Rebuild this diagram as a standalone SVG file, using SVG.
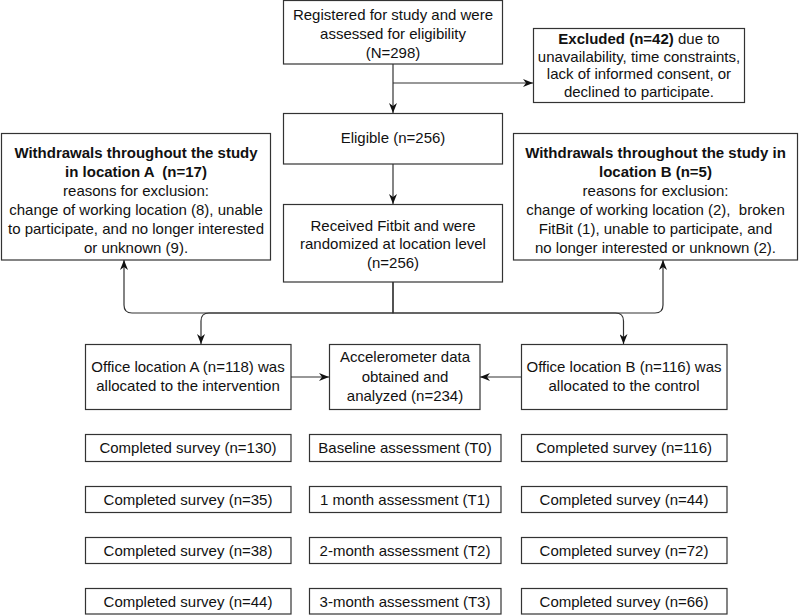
<svg xmlns="http://www.w3.org/2000/svg" width="800" height="615" viewBox="0 0 800 615">
<style>
.box{fill:#fff;stroke:#333;stroke-width:1.2}
text{font-family:"Liberation Sans",Arial,sans-serif;font-size:15px;fill:#111;text-anchor:middle;white-space:pre}
.b{font-weight:bold}
.edge{fill:none;stroke:#333;stroke-width:1.2}
</style>
<defs>
<marker id="arr" viewBox="0 0 10 8" refX="10" refY="4" markerWidth="10" markerHeight="8" orient="auto" markerUnits="userSpaceOnUse">
<path d="M0,0 L10,4 L0,8 L3,4 z" fill="#111"/>
</marker>
</defs>
<rect width="800" height="615" fill="#fff"/>
<g id="connectors">
<path class="edge" d="M393,64 V113" marker-end="url(#arr)"/>
<path class="edge" d="M393,83 H533" marker-end="url(#arr)"/>
<path class="edge" d="M393,164 V204" marker-end="url(#arr)"/>
<path class="edge" d="M393,282 V313 H132 Q124,313 124,305 V260" marker-end="url(#arr)"/>
<path class="edge" d="M393,282 V313 H655 Q663,313 663,305 V260" marker-end="url(#arr)"/>
<path class="edge" d="M393,313 H209 Q201,313 201,321 V344" marker-end="url(#arr)"/>
<path class="edge" d="M393,313 H615.5 Q623.5,313 623.5,321 V344" marker-end="url(#arr)"/>
<path class="edge" d="M291,377 H329" marker-end="url(#arr)"/>
<path class="edge" d="M521,377 H480" marker-end="url(#arr)"/>
</g>
<g id="registered">
<rect class="box" x="283.5" y="0.5" width="219" height="63.5"/>
<text x="393" y="20">Registered for study and were</text>
<text x="393" y="39">assessed for eligibility</text>
<text x="393" y="58">(N=298)</text>
</g>
<g id="excluded">
<rect class="box" x="533.5" y="28.5" width="211" height="74"/>
<text x="639" y="44"><tspan class="b">Excluded (n=42)</tspan> due to</text>
<text x="639" y="61.5">unavailability, time constraints,</text>
<text x="639" y="79">lack of informed consent, or</text>
<text x="639" y="96.5">declined to participate.</text>
</g>
<g id="eligible">
<rect class="box" x="283.5" y="113.5" width="219" height="50.5"/>
<text x="393" y="143">Eligible (n=256)</text>
</g>
<g id="randomized">
<rect class="box" x="283.5" y="204.5" width="219" height="77.5"/>
<text x="393" y="230.5">Received Fitbit and were</text>
<text x="393" y="249">randomized at location level</text>
<text x="393" y="267.5">(n=256)</text>
</g>
<g id="withdrawA">
<rect class="box" x="1.5" y="133.5" width="269" height="126.5"/>
<text class="b" x="136" y="158">Withdrawals throughout the study</text>
<text class="b" x="136" y="177">in location A  (n=17)</text>
<text x="136" y="196">reasons for exclusion:</text>
<text x="136" y="215">change of working location (8), unable</text>
<text x="136" y="234">to participate, and no longer interested</text>
<text x="136" y="253">or unknown (9).</text>
</g>
<g id="withdrawB">
<rect class="box" x="513.5" y="133.5" width="284" height="126.5"/>
<text class="b" x="655.5" y="158">Withdrawals throughout the study in</text>
<text class="b" x="655.5" y="177">location B (n=5)</text>
<text x="655.5" y="196">reasons for exclusion:</text>
<text x="655.5" y="215">change of working location (2),  broken</text>
<text x="655.5" y="234">FitBit (1), unable to participate, and</text>
<text x="655.5" y="253">no longer interested or unknown (2).</text>
</g>
<g id="officeA">
<rect class="box" x="85.5" y="344.5" width="205.5" height="65"/>
<text x="188" y="372">Office location A (n=118) was</text>
<text x="188" y="391">allocated to the intervention</text>
</g>
<g id="accel">
<rect class="box" x="329.5" y="344.5" width="150.5" height="65"/>
<text x="405" y="362">Accelerometer data</text>
<text x="405" y="382">obtained and</text>
<text x="405" y="401">analyzed (n=234)</text>
</g>
<g id="officeB">
<rect class="box" x="521.5" y="344.5" width="205.5" height="65"/>
<text x="624" y="372">Office location B (n=116) was</text>
<text x="624" y="391">allocated to the control</text>
</g>
<g id="surveyA0"><rect class="box" x="85.5" y="434.5" width="205.5" height="27"/><text x="188" y="453">Completed survey (n=130)</text></g>
<g id="t0"><rect class="box" x="309.5" y="434.5" width="191.5" height="27"/><text x="405" y="453">Baseline assessment (T0)</text></g>
<g id="surveyB0"><rect class="box" x="521.5" y="434.5" width="205.5" height="27"/><text x="624" y="453">Completed survey (n=116)</text></g>
<g id="surveyA1"><rect class="box" x="85.5" y="486.5" width="205.5" height="26"/><text x="188" y="504.5">Completed survey (n=35)</text></g>
<g id="t1"><rect class="box" x="309.5" y="486.5" width="191.5" height="26"/><text x="405" y="504.5">1 month assessment (T1)</text></g>
<g id="surveyB1"><rect class="box" x="521.5" y="486.5" width="205.5" height="26"/><text x="624" y="504.5">Completed survey (n=44)</text></g>
<g id="surveyA2"><rect class="box" x="85.5" y="537.5" width="205.5" height="26"/><text x="188" y="555.5">Completed survey (n=38)</text></g>
<g id="t2"><rect class="box" x="309.5" y="537.5" width="191.5" height="26"/><text x="405" y="555.5">2-month assessment (T2)</text></g>
<g id="surveyB2"><rect class="box" x="521.5" y="537.5" width="205.5" height="26"/><text x="624" y="555.5">Completed survey (n=72)</text></g>
<g id="surveyA3"><rect class="box" x="85.5" y="588.5" width="205.5" height="25.5"/><text x="188" y="606.5">Completed survey (n=44)</text></g>
<g id="t3"><rect class="box" x="309.5" y="588.5" width="191.5" height="25.5"/><text x="405" y="606.5">3-month assessment (T3)</text></g>
<g id="surveyB3"><rect class="box" x="521.5" y="588.5" width="205.5" height="25.5"/><text x="624" y="606.5">Completed survey (n=66)</text></g>
</svg>
